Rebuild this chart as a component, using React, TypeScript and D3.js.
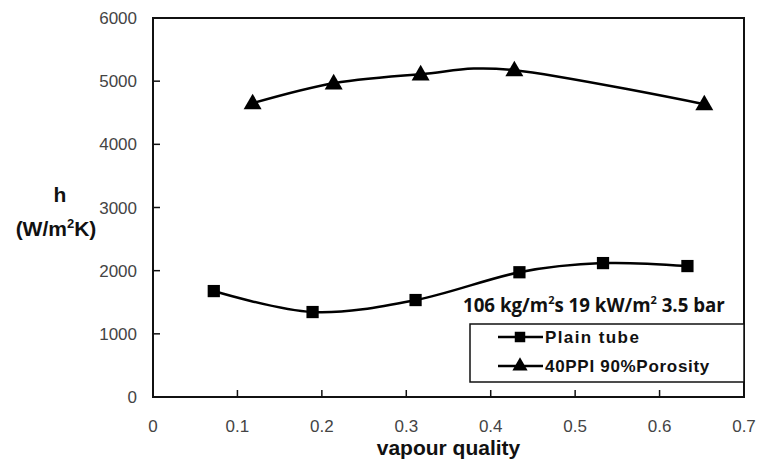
import React from "react";
import * as d3 from "d3";

// vapour quality / heat transfer coefficient
const plainX = [0.072, 0.189, 0.311, 0.434, 0.533, 0.633];
const plainH = [1677, 1345, 1535, 1975, 2120, 2073];
const foamX = [0.118, 0.214, 0.317, 0.428, 0.653];
const foamH = [4652, 4968, 5110, 5174, 4636];
const xTicks = [0, 0.1, 0.2, 0.3, 0.4, 0.5, 0.6, 0.7];
const yTicks = [0, 1000, 2000, 3000, 4000, 5000, 6000];
const legendLabels = ["Plain tube", "40PPI 90%Porosity"];

export default function App() {
    const ref = React.useRef<SVGSVGElement>(null);

    React.useEffect(() => {
        const width = 757;
        const height = 461;
        const marginLeft = 153;
        const marginRight = 13;
        const marginTop = 18;
        const marginBottom = 64;
        const tickFont = "'Liberation Sans', Arial, sans-serif";

        const x = d3.scaleLinear().domain([0, 0.7]).range([marginLeft, width - marginRight]);
        const y = d3.scaleLinear().domain([0, 6000]).range([height - marginBottom, marginTop]);

        const svg = d3.select(ref.current)
            .attr("width", width)
            .attr("height", height)
            .attr("viewBox", [0, 0, width, height]);
        svg.selectAll("*").remove();

        svg.append("rect").attr("width", width).attr("height", height).attr("fill", "#fff");

        // frame
        svg.append("rect")
            .attr("x", x(0)).attr("y", y(6000))
            .attr("width", x(0.7) - x(0)).attr("height", y(0) - y(6000))
            .attr("fill", "none").attr("stroke", "#111").attr("stroke-width", 2);

        // inward ticks
        svg.append("g")
            .selectAll("line")
            .data(xTicks.slice(1, -1))
            .join("line")
            .attr("x1", d => x(d)).attr("x2", d => x(d))
            .attr("y1", y(0)).attr("y2", y(0) - 7)
            .attr("stroke", "#111").attr("stroke-width", 1.5);
        svg.append("g")
            .selectAll("line")
            .data(yTicks.slice(1, -1))
            .join("line")
            .attr("x1", x(0)).attr("x2", x(0) + 7)
            .attr("y1", d => y(d)).attr("y2", d => y(d))
            .attr("stroke", "#111").attr("stroke-width", 1.5);

        // tick labels
        svg.append("g")
            .selectAll("text")
            .data(xTicks)
            .join("text")
            .attr("x", d => x(d)).attr("y", 432)
            .attr("text-anchor", "middle")
            .attr("font-family", tickFont).attr("font-size", 17).attr("fill", "#444")
            .text(d => (d === 0 ? "0" : d.toFixed(1)));
        svg.append("g")
            .selectAll("text")
            .data(yTicks)
            .join("text")
            .attr("x", 137).attr("y", d => y(d) + 6)
            .attr("text-anchor", "end")
            .attr("font-family", tickFont).attr("font-size", 17).attr("fill", "#444")
            .text(d => String(d));

        // axis titles
        svg.append("text")
            .attr("x", (x(0) + x(0.7)) / 2).attr("y", 455)
            .attr("text-anchor", "middle")
            .attr("font-family", tickFont).attr("font-weight", "bold").attr("font-size", 21)
            .attr("fill", "#111")
            .text("vapour quality");
        svg.append("text")
            .attr("x", 60).attr("y", 202)
            .attr("text-anchor", "middle")
            .attr("font-family", tickFont).attr("font-weight", "bold").attr("font-size", 21)
            .attr("fill", "#111")
            .text("h");
        const unit = svg.append("text")
            .attr("x", 56).attr("y", 236)
            .attr("text-anchor", "middle")
            .attr("font-family", tickFont).attr("font-weight", "bold").attr("font-size", 21)
            .attr("fill", "#111");
        unit.append("tspan").text("(W/m");
        unit.append("tspan").attr("font-size", 13).attr("dy", -8).text("2");
        unit.append("tspan").attr("dy", 8).text("K)");

        const line = d3.line<[number, number]>()
            .x(d => x(d[0]))
            .y(d => y(d[1]))
            .curve(d3.curveCardinal.tension(0));

        const plain = plainX.map((v, i) => [v, plainH[i]] as [number, number]);
        const foam = foamX.map((v, i) => [v, foamH[i]] as [number, number]);

        svg.append("path").datum(plain).attr("d", line)
            .attr("fill", "none").attr("stroke", "#000").attr("stroke-width", 2.5);
        svg.append("path").datum(foam).attr("d", line)
            .attr("fill", "none").attr("stroke", "#000").attr("stroke-width", 2.5);

        const square = d3.symbol(d3.symbolSquare, 150);
        const triangle = d3.symbol(d3.symbolTriangle, 140);

        svg.append("g")
            .selectAll("path")
            .data(plain)
            .join("path")
            .attr("d", square)
            .attr("transform", d => `translate(${x(d[0])},${y(d[1])})`)
            .attr("fill", "#000");
        svg.append("g")
            .selectAll("path")
            .data(foam)
            .join("path")
            .attr("d", triangle)
            .attr("transform", d => `translate(${x(d[0])},${y(d[1]) + 1})`)
            .attr("fill", "#000");

        // condition note
        const note = svg.append("text")
            .attr("x", 463).attr("y", 312)
            .attr("font-family", "'Liberation Sans Narrow', 'Open Sans', sans-serif")
            .attr("font-weight", "bold").attr("font-size", 18.7)
            .attr("fill", "#111");
        note.append("tspan").text("106 kg/m");
        note.append("tspan").attr("font-size", 11).attr("dy", -8).text("2");
        note.append("tspan").attr("dy", 8).text("s 19 kW/m");
        note.append("tspan").attr("font-size", 11).attr("dy", -8).text("2");
        note.append("tspan").attr("dy", 8).text(" 3.5 bar");

        // legend
        const lg = svg.append("g");
        lg.append("rect")
            .attr("x", 470).attr("y", 324).attr("width", 274).attr("height", 58)
            .attr("fill", "#fff").attr("stroke", "#111").attr("stroke-width", 1.5);
        const rows = lg.selectAll("g.row")
            .data(legendLabels)
            .join("g")
            .attr("class", "row")
            .attr("transform", (d, i) => `translate(0,${337 + i * 29})`);
        rows.append("line")
            .attr("x1", 498).attr("x2", 543)
            .attr("stroke", "#000").attr("stroke-width", 2.5);
        rows.append("path")
            .attr("d", (d, i) => (i === 0 ? d3.symbol(d3.symbolSquare, 110)() : d3.symbol(d3.symbolTriangle, 100)()))
            .attr("transform", "translate(520,0)")
            .attr("fill", "#000");
        rows.append("text")
            .attr("x", 545).attr("y", 6)
            .attr("font-family", tickFont).attr("font-weight", "bold").attr("font-size", 17)
            .attr("letter-spacing", (d, i) => (i === 0 ? 1.4 : 0.7))
            .attr("fill", "#111")
            .text(d => d);
    }, []);

    return <svg ref={ref} style={{ position: "absolute", left: 0, top: 0, display: "block" }}></svg>;
}
